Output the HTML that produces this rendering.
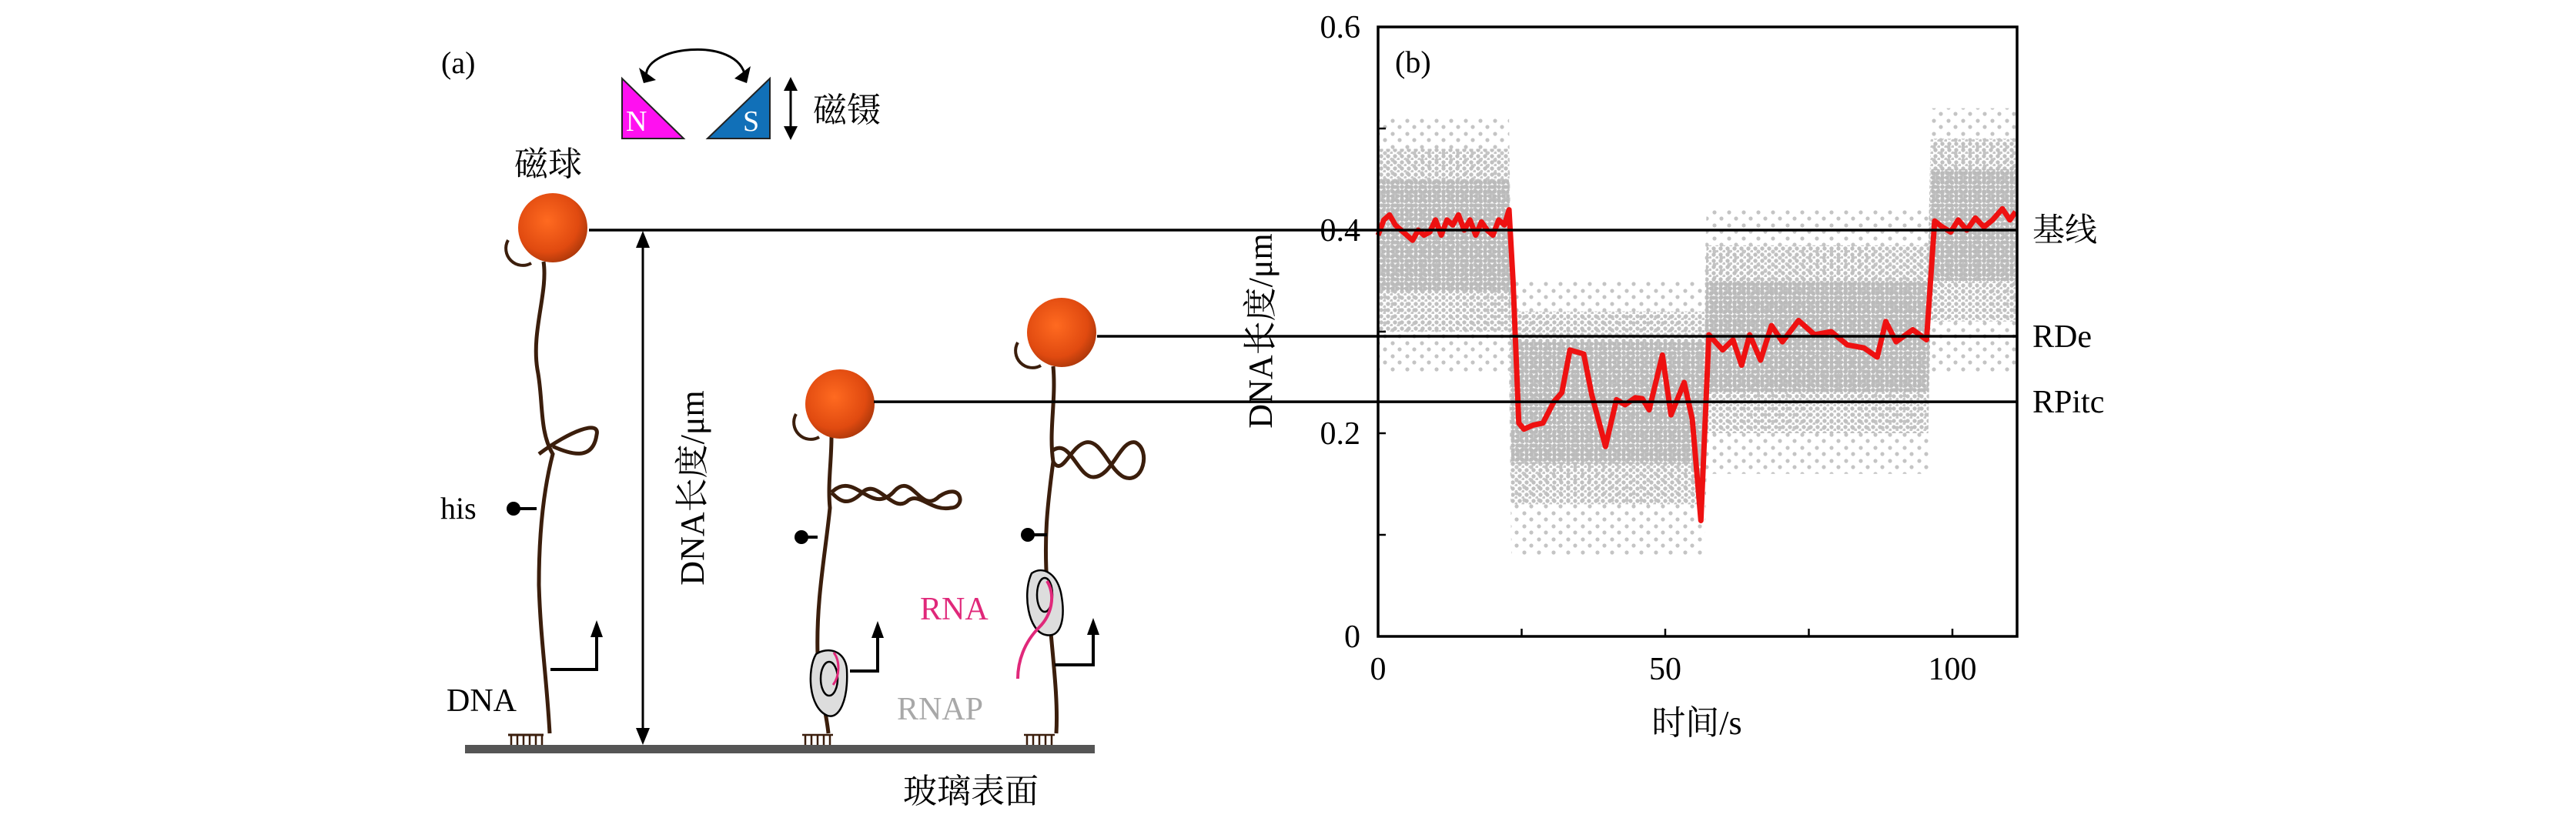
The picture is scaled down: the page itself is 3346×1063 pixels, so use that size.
<!DOCTYPE html>
<html><head><meta charset="utf-8">
<style>
html,body{margin:0;padding:0;background:#fff;}
svg{display:block;}
text{font-family:"Liberation Serif","Noto Serif CJK SC",serif;}
</style></head>
<body>
<svg id="fig" xmlns="http://www.w3.org/2000/svg" width="3346" height="1063" viewBox="0 0 3346 1063">
<defs>
<radialGradient id="beadGrad" cx="0.42" cy="0.4" r="0.65">
<stop offset="0" stop-color="#ff6a20"/><stop offset="0.7" stop-color="#e04a10"/><stop offset="1" stop-color="#a8360a"/>
</radialGradient>
<pattern id="denseDots" width="6" height="6" patternUnits="userSpaceOnUse">
<circle cx="3" cy="3" r="2.9" fill="#bababa"/>
</pattern>
<pattern id="midDots" width="9" height="8" patternUnits="userSpaceOnUse">
<circle cx="3" cy="3" r="2.7" fill="#c0c0c0"/><circle cx="7.5" cy="7" r="2.2" fill="#c6c6c6"/>
</pattern>
<pattern id="sparseDots" width="19" height="17" patternUnits="userSpaceOnUse">
<circle cx="4" cy="4" r="2.6" fill="#c4c4c4"/><circle cx="13" cy="12" r="2.6" fill="#c4c4c4"/>
</pattern>
</defs>

<!-- ===== Panel (a) ===== -->
<g>
<text x="573" y="95" font-size="40">(a)</text>
<path d="M840,102 C830,60 960,45 968,100" fill="none" stroke="#000" stroke-width="3"/>
<polygon points="830,88 852,104 836,108" fill="#000"/>
<polygon points="975,86 970,108 954,102" fill="#000"/>
<polygon points="808,102 808,180 888,180" fill="#ff10f0" stroke="#222" stroke-width="2"/>
<text x="813" y="170" font-size="38" fill="#fff">N</text>
<polygon points="919,180 1000,102 1000,180" fill="#1170b8" stroke="#222" stroke-width="2"/>
<text x="965" y="170" font-size="38" fill="#fff">S</text>
<line x1="1027" y1="112" x2="1027" y2="170" stroke="#000" stroke-width="3"/>
<polygon points="1018,118 1036,118 1027,100" fill="#000"/>
<polygon points="1018,164 1036,164 1027,182" fill="#000"/>
<text x="1056" y="158" font-size="44">磁镊</text>
<text x="668" y="228" font-size="44">磁球</text>

<rect x="604" y="968" width="818" height="11" fill="#555"/>
<text x="1173" y="1043" font-size="44">玻璃表面</text>

<line x1="835" y1="318" x2="835" y2="950" stroke="#000" stroke-width="3"/>
<polygon points="826,322 844,322 835,300" fill="#000"/>
<polygon points="826,946 844,946 835,968" fill="#000"/>
<text transform="translate(914,634) rotate(-90)" text-anchor="middle" font-size="44">DNA长度/μm</text>

<g fill="none" stroke="#3b1e0c" stroke-width="5">
<path d="M706,340 C712,380 690,430 698,480 C706,520 700,560 718,590 C705,640 700,700 700,760 C702,830 710,880 714,953"/>
<path d="M700,590 C740,560 780,545 775,565 C770,600 740,590 718,580"/>
</g>
<line x1="697" y1="661" x2="672" y2="661" stroke="#000" stroke-width="4"/>
<circle cx="667" cy="661" r="9" fill="#000"/>
<text x="572" y="674" font-size="40">his</text>
<text x="580" y="924" font-size="42">DNA</text>
<path d="M715,870 L775,870 L775,825" fill="none" stroke="#000" stroke-width="4"/>
<polygon points="767,828 783,828 775,806" fill="#000"/>
<path d="M660,955 h46" stroke="#3b1e0c" stroke-width="3"/>
<path d="M664,955v13M672,955v13M680,955v13M688,955v13M696,955v13M704,955v13" stroke="#3b1e0c" stroke-width="2.5"/>
<path d="M660,312 a22,22 0 0 0 30,30" fill="none" stroke="#3b1e0c" stroke-width="4"/>
<circle cx="718" cy="296" r="45" fill="url(#beadGrad)"/>

<g fill="none" stroke="#3b1e0c" stroke-width="5">
<path d="M1080,568 C1080,600 1075,630 1078,660 C1072,720 1060,780 1062,850 C1065,900 1074,930 1076,953"/>
<path d="M1080,640 C1110,610 1130,670 1160,640 C1185,610 1195,670 1220,645 C1250,625 1255,660 1235,660 C1210,665 1195,640 1180,650 C1160,670 1140,620 1120,640 C1100,660 1090,650 1080,640"/>
</g>
<line x1="1062" y1="698" x2="1046" y2="698" stroke="#000" stroke-width="4"/>
<circle cx="1041" cy="698" r="9" fill="#000"/>
<path d="M1060,850 C1048,870 1050,920 1075,930 C1090,935 1102,910 1100,870 C1098,845 1075,840 1060,850Z" fill="#ddd" stroke="#000" stroke-width="2.5"/>
<ellipse cx="1077" cy="882" rx="11" ry="22" fill="none" stroke="#000" stroke-width="2.5"/>
<path d="M1083,848 C1092,860 1090,880 1082,890" fill="none" stroke="#e0287a" stroke-width="3"/>
<path d="M1104,872 L1140,872 L1140,826" fill="none" stroke="#000" stroke-width="4"/>
<polygon points="1132,829 1148,829 1140,807" fill="#000"/>
<path d="M1042,955 h40M1046,955v13M1054,955v13M1062,955v13M1070,955v13M1078,955v13" stroke="#3b1e0c" stroke-width="2.5"/>
<path d="M1034,538 a22,22 0 0 0 30,30" fill="none" stroke="#3b1e0c" stroke-width="4"/>
<circle cx="1091" cy="525" r="45" fill="url(#beadGrad)"/>

<g fill="none" stroke="#3b1e0c" stroke-width="5">
<path d="M1368,476 C1372,520 1362,560 1368,600 C1360,660 1356,700 1360,760 C1365,840 1375,900 1372,953"/>
<path d="M1368,585 C1390,570 1400,620 1420,620 C1445,620 1455,570 1475,575 C1495,585 1485,630 1460,620 C1440,610 1430,570 1410,575 C1390,580 1380,620 1368,600"/>
</g>
<line x1="1360" y1="695" x2="1340" y2="695" stroke="#000" stroke-width="4"/>
<circle cx="1335" cy="695" r="9" fill="#000"/>
<path d="M1340,745 C1328,770 1335,820 1358,825 C1380,830 1384,800 1378,770 C1372,745 1355,735 1340,745Z" fill="#ddd" stroke="#000" stroke-width="2.5"/>
<ellipse cx="1357" cy="773" rx="10" ry="22" fill="none" stroke="#000" stroke-width="2.5"/>
<path d="M1360,755 C1372,775 1365,800 1350,815 C1330,835 1322,860 1322,882" fill="none" stroke="#e0287a" stroke-width="4"/>
<path d="M1370,864 L1420,864 L1420,822" fill="none" stroke="#000" stroke-width="4"/>
<polygon points="1412,825 1428,825 1420,803" fill="#000"/>
<path d="M1330,955 h40M1334,955v13M1342,955v13M1350,955v13M1358,955v13M1366,955v13" stroke="#3b1e0c" stroke-width="2.5"/>
<path d="M1322,445 a22,22 0 0 0 30,30" fill="none" stroke="#3b1e0c" stroke-width="4"/>
<circle cx="1379" cy="432" r="45" fill="url(#beadGrad)"/>

<text x="1195" y="805" font-size="42" fill="#e0287a">RNA</text>
<text x="1165" y="935" font-size="42" fill="#a8a8a8">RNAP</text>
</g>

<g id="chart"></g>
</svg>

<script>
// red smoothed trace
const traceTimes = [0,1,2,3,4,5,6,7,8,9,10,11,12,13,14,15,16,17,18,19,20,21,22,22.8,23.5,24.5,25.4,27,28.7,30.6,32,33.4,35.8,37.2,39.6,41.5,43,44.8,46,47.2,49.5,51,53.3,54.7,56.2,57.6,60,61.8,63.3,64.7,66.6,68.5,70.4,73.2,76,78.9,81.7,84.6,86.9,88.4,90.2,93.1,95.5,96.9,98,99.7,101,102.5,104,105.5,107,108.7,110,111];
const traceLengths = [0.395,0.41,0.415,0.405,0.4,0.395,0.39,0.4,0.395,0.398,0.41,0.395,0.41,0.405,0.415,0.4,0.41,0.395,0.408,0.4,0.395,0.41,0.405,0.42,0.35,0.21,0.204,0.208,0.21,0.231,0.24,0.282,0.278,0.238,0.187,0.233,0.228,0.235,0.234,0.223,0.277,0.218,0.25,0.214,0.114,0.297,0.282,0.292,0.267,0.297,0.272,0.306,0.29,0.311,0.297,0.3,0.287,0.284,0.275,0.31,0.29,0.302,0.292,0.409,0.404,0.398,0.41,0.4,0.412,0.403,0.41,0.421,0.41,0.418];
// gray data cloud envelopes
const cloudTimes = [0,22.8,23.2,56.8,57.2,95.8,96.2,111];
const cloudDenseHi = [0.45,0.45,0.29,0.29,0.35,0.35,0.46,0.46];
const cloudDenseLo = [0.34,0.34,0.17,0.17,0.24,0.24,0.35,0.35];
const cloudMidHi = [0.48,0.48,0.32,0.32,0.385,0.385,0.49,0.49];
const cloudMidLo = [0.30,0.30,0.13,0.13,0.20,0.20,0.31,0.31];
const cloudSparseHi = [0.51,0.51,0.35,0.35,0.42,0.42,0.52,0.52];
const cloudSparseLo = [0.26,0.26,0.08,0.08,0.16,0.16,0.26,0.26];
// reference levels
const refNames = ["基线","RDe","RPitc"];
const refValues = [0.4,0.2955,0.231];
const refStartX = [765,1425,1135];
// ticks
const yTickValues = [0,0.1,0.2,0.3,0.4,0.5,0.6];
const yTickLabels = ["0","","0.2","","0.4","","0.6"];
const xTickValues = [0,25,50,75,100];
const xTickLabels = ["0","","50","","100"];

const X0=1790, X1=2620, Y0=827, YT=35;
const xs = t => X0 + t*7.46;
const ys = v => Y0 - v*1320;
const NS="http://www.w3.org/2000/svg";
const chart=document.getElementById('chart');
function mk(tag, attrs, parent){const e=document.createElementNS(NS,tag);for(const k in attrs)e.setAttribute(k,attrs[k]);(parent||chart).appendChild(e);return e;}

const clip=mk('clipPath',{id:'plotClip'});
mk('rect',{x:X0,y:YT,width:X1-X0,height:Y0-YT},clip);

function bandPath(hi,lo){
  let d='';
  for(let i=0;i<cloudTimes.length;i++) d+=(i?'L':'M')+xs(cloudTimes[i])+','+ys(hi[i]);
  for(let i=cloudTimes.length-1;i>=0;i--) d+='L'+xs(cloudTimes[i])+','+ys(lo[i]);
  return d+'Z';
}
const sp=mk('path',{d:bandPath(cloudSparseHi,cloudSparseLo),fill:'url(#sparseDots)','clip-path':'url(#plotClip)'});


const mp=mk('path',{d:bandPath(cloudMidHi,cloudMidLo),fill:'url(#midDots)','clip-path':'url(#plotClip)'});


const dp=mk('path',{d:bandPath(cloudDenseHi,cloudDenseLo),fill:'url(#denseDots)','clip-path':'url(#plotClip)'});



let td='';
traceTimes.forEach((t,i)=>{td+=(i?'L':'M')+xs(t).toFixed(1)+','+ys(traceLengths[i]).toFixed(1);});
const tr=mk('path',{d:td,fill:'none',stroke:'#ee1111','stroke-width':7,'stroke-linejoin':'round'});



refValues.forEach((v,i)=>{
  const l=mk('line',{x1:refStartX[i],x2:X1,y1:ys(v),y2:ys(v),stroke:'#000','stroke-width':3.5});
  
  
  const t=mk('text',{x:2640,y:ys(v)+14,'font-size':42});
  t.textContent=refNames[i];
  
  
});

const fr=mk('rect',{x:X0,y:YT,width:X1-X0,height:Y0-YT,fill:'none',stroke:'#000','stroke-width':3.5});



yTickValues.forEach((v,i)=>{
  mk('line',{x1:X0,x2:X0+10,y1:ys(v),y2:ys(v),stroke:'#000','stroke-width':2.5});
  if(yTickLabels[i]){
    const t=mk('text',{x:1767,y:ys(v)+14,'font-size':42,'text-anchor':'end'});
    t.textContent=yTickLabels[i];
    
    
  }
});
xTickValues.forEach((v,i)=>{
  mk('line',{x1:xs(v),x2:xs(v),y1:Y0,y2:Y0-10,stroke:'#000','stroke-width':2.5});
  if(xTickLabels[i]){
    const t=mk('text',{x:xs(v),y:883,'font-size':42,'text-anchor':'middle'});
    t.textContent=xTickLabels[i];
    
    
  }
});
const xt=mk('text',{x:2204,y:954,'font-size':44,'text-anchor':'middle'});
xt.textContent='时间/s';


const yt=mk('text',{transform:'translate(1652,430) rotate(-90)','font-size':44,'text-anchor':'middle'});
yt.textContent='DNA长度/μm';


const pb=mk('text',{x:1812,y:94,'font-size':40});
pb.textContent='(b)';


</script>
</body></html>
